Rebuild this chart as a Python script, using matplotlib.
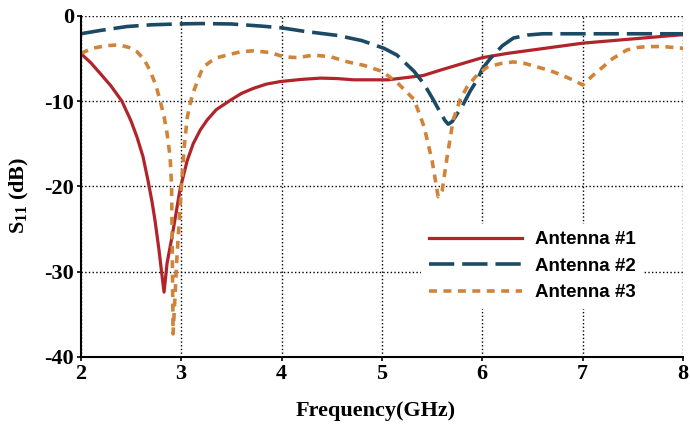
import matplotlib
matplotlib.use("Agg")
import matplotlib.pyplot as plt

# Antenna #1 (linea roja continua)
f1 = [2.0, 2.1, 2.19, 2.3, 2.41, 2.5, 2.56, 2.62, 2.67, 2.71, 2.74, 2.78, 2.81, 2.83,
      2.86, 2.9, 2.94, 2.99, 3.06, 3.12, 3.19, 3.26, 3.35, 3.49, 3.6, 3.72, 3.85, 3.99,
      4.2, 4.39, 4.55, 4.72, 4.9, 5.06, 5.2, 5.41, 5.6, 5.8, 6.0, 6.25, 6.5, 6.75, 7.0,
      7.25, 7.5, 7.75, 8.0]
s1 = [-4.4, -5.5, -6.7, -8.2, -10.0, -12.3, -14.2, -16.5, -19.3, -21.8, -24.0, -27.5, -30.5, -32.4,
      -29.0, -26.5, -23.8, -20.3, -17.0, -15.0, -13.4, -12.2, -11.0, -9.9, -9.1, -8.5, -8.0, -7.7,
      -7.45, -7.3, -7.35, -7.5, -7.5, -7.5, -7.3, -7.0, -6.3, -5.6, -4.9, -4.4, -4.0, -3.6, -3.2,
      -2.95, -2.7, -2.45, -2.2]

# Antenna #2 (linea azul discontinua)
f2 = [2.0, 2.2, 2.46, 2.7, 2.96, 3.2, 3.5, 3.8, 4.0, 4.22, 4.56, 4.8, 5.02, 5.15, 5.32,
      5.42, 5.51, 5.58, 5.63, 5.66, 5.7, 5.76, 5.8, 5.88, 5.95, 6.0, 6.08, 6.2, 6.31,
      6.45, 6.6, 7.0, 7.5, 8.0]
s2 = [-2.1, -1.7, -1.25, -1.05, -0.95, -0.9, -0.95, -1.2, -1.4, -1.8, -2.3, -2.9, -3.8, -4.6, -6.5,
      -8.0, -9.8, -11.3, -12.3, -12.7, -12.4, -11.3, -10.6, -8.8, -7.5, -6.2, -5.0, -3.5, -2.6,
      -2.25, -2.1, -2.1, -2.1, -2.1]

# Antenna #3 (linea naranja punteada)
f3 = [2.0, 2.12, 2.25, 2.38, 2.48, 2.56, 2.63, 2.69, 2.75, 2.79, 2.83, 2.86, 2.89, 2.905,
      2.92, 2.96, 3.0, 3.03, 3.06, 3.09, 3.12, 3.19, 3.22, 3.3, 3.36, 3.49, 3.6, 3.72, 3.89,
      4.02, 4.16, 4.32, 4.49, 4.66, 4.82, 5.0, 5.15, 5.32, 5.42, 5.5, 5.56, 5.6, 5.65, 5.71,
      5.78, 5.85, 5.95, 6.05, 6.18, 6.31, 6.43, 6.55, 6.67, 6.78, 6.9, 7.0, 7.1, 7.2, 7.3,
      7.44, 7.55, 7.64, 7.8, 8.0]
s3 = [-4.4, -3.8, -3.5, -3.4, -3.7, -4.2, -5.1, -6.4, -8.2, -9.9, -11.8, -13.8, -16.5, -20.0,
      -37.3, -28.0, -20.5, -15.5, -12.0, -10.3, -9.0, -6.8, -6.0, -5.3, -4.9, -4.5, -4.2, -4.1, -4.3,
      -4.8, -4.9, -4.6, -4.8, -5.4, -5.8, -6.5, -7.8, -9.8, -13.0, -17.0, -21.2, -20.5, -16.5, -12.2,
      -9.8, -8.3, -6.9, -6.0, -5.6, -5.4, -5.6, -6.0, -6.4, -6.9, -7.5, -8.1, -7.0, -6.0, -5.0,
      -4.0, -3.7, -3.6, -3.6, -3.8]

xticks = [2, 3, 4, 5, 6, 7, 8]
yticks = [0, -10, -20, -30, -40]

plt.rcParams["mathtext.fontset"] = "custom"
plt.rcParams["mathtext.bf"] = "Liberation Serif:bold"
plt.rcParams["mathtext.rm"] = "Liberation Serif"
plt.rcParams["axes.unicode_minus"] = False

fig = plt.figure(figsize=(6.9, 4.29), dpi=100)
ax = fig.add_axes([0.117, 0.168, 0.873, 0.795])

ax.plot(f1, s1, color="#b0242a", lw=2.3, label="Antenna #1")
ax.plot(f2, s2, color="#1c4a64", lw=2.6, dashes=(7, 2.2), label="Antenna #2")
ax.plot(f3, s3, color="#d0843a", lw=2.6, dashes=(2.2, 1.8), label="Antenna #3")

ax.set_xlim(2, 8)
ax.set_ylim(-40, 0)
ax.set_xticks(xticks)
ax.set_yticks(yticks)
ax.grid(True, color="black", linestyle=":", lw=1.0)
ax.set_axisbelow(True)
for s in ["top", "right"]:
    ax.spines[s].set_visible(False)
for s in ["left", "bottom"]:
    ax.spines[s].set_linewidth(1.5)
ax.tick_params(direction="out", length=3, width=1.2, pad=2)
for lab in ax.get_xticklabels() + ax.get_yticklabels():
    lab.set_fontfamily("Liberation Serif")
    lab.set_fontweight("bold")
    lab.set_fontsize(16)

ax.set_xlabel("Frequency(GHz)", fontfamily="Liberation Serif", fontweight="bold", fontsize=16)
ax.set_ylabel(r"$\mathbf{S_{11}}$ (dB)", fontfamily="Liberation Serif", fontweight="bold", fontsize=16)
ax.xaxis.set_label_coords(0.49, -0.13)
ax.yaxis.set_label_coords(-0.082, 0.475)

leg = ax.legend(loc="upper left", bbox_to_anchor=(0.565, 0.391), borderaxespad=0,
                prop={"family": "Liberation Sans", "weight": "bold", "size": 13.5},
                handlelength=5.0, handletextpad=0.7, labelspacing=0.5,
                frameon=True, fancybox=False, borderpad=0.4)
leg.get_frame().set_edgecolor("none")
leg.get_frame().set_facecolor("white")
leg.get_frame().set_alpha(1.0)

fig.savefig("out.png", dpi=100)
